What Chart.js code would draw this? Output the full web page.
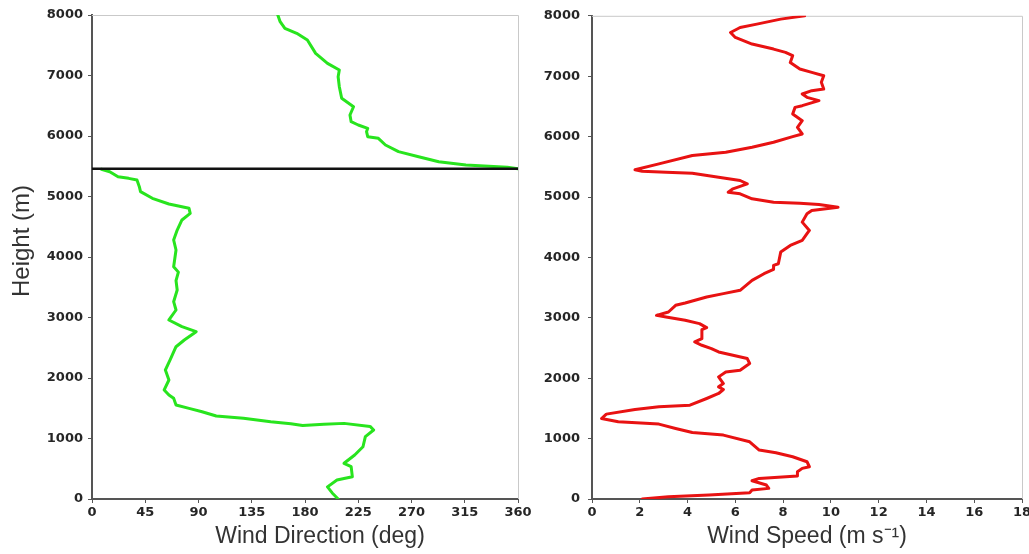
<!DOCTYPE html>
<html>
<head>
<meta charset="utf-8">
<script src="https://cdn.jsdelivr.net/npm/chart.js@4.4.1/dist/chart.umd.min.js"></script>
<style>
html,body{margin:0;padding:0;background:#fff;overflow:hidden;width:1029px;height:554px;}
#wrapL{position:absolute;left:0;top:0;width:540px;height:554px;}
#wrapR{position:absolute;left:500px;top:0;width:540px;height:554px;}
</style>
</head>
<body>
<div id="wrapL"><canvas id="cL" width="540" height="554"></canvas></div>
<div id="wrapR"><canvas id="cR" width="540" height="554"></canvas></div>
<script>
// ---- Data ----
// Wind direction below the 0/360 wrap (height m, direction deg)
const dirHeightsLow = [0,100,200,314,369,534,590,727,864,1030,1140,1200,1250,1235,1215,1245,1278,1333,1372,1443,1498,1554,1664,1719,1802,1967,2132,2298,2517,2628,2766,2848,2959,3124,3261,3455,3610,3750,3840,4116,4281,4446,4612,4722,4805,4876,4970,5080,5162,5273,5300,5327,5410,5450];
const dirValuesLow  = [208,203,199,207,220,219,213,222,229,231,238,235,213,196,178,168,151,128,105,93,82,71,69,65,61,65,62,66,71,78,88,76,65,71,69,72,71,73,69,71,69,72,76,83,82,65,51,41,40,38,31,22,15,8];
// Wind direction above the wrap
const dirHeightsHigh = [5460,5482,5520,5575,5658,5741,5851,5962,5989,6071,6127,6182,6237,6347,6484,6623,6815,6980,7091,7201,7366,7587,7697,7780,7890,8000];
const dirValuesHigh  = [360,351,316,293,276,259,248,242,233,232,233,225,219,218,221,211,209,208,209,199,189,182,173,163,159,157];
// Marked layer height (black line)
const markHeight = 5460;
// Wind speed (height m, speed m/s)
const speedHeights = [0,38,66,105,149,176,231,303,341,380,452,507,534,617,699,766,810,947,1058,1102,1168,1240,1278,1333,1405,1482,1526,1554,1664,1747,1813,1857,1912,2022,2104,2132,2243,2325,2380,2435,2490,2545,2600,2655,2804,2837,2904,2959,3013,3041,3096,3207,3245,3344,3400,3455,3620,3730,3800,3868,3895,4088,4198,4281,4392,4446,4584,4722,4777,4832,4876,4898,4914,4970,5053,5080,5135,5218,5273,5327,5394,5410,5426,5450,5549,5686,5741,5823,5906,6000,6044,6154,6264,6375,6484,6512,6595,6650,6706,6760,6788,6898,7008,7063,7119,7228,7339,7394,7449,7532,7642,7724,7807,7862,7945,8000];
const speedValues  = [2.1,3.2,4.9,6.6,6.7,7.4,7.3,6.7,7.0,8.6,8.6,8.8,9.1,9.0,8.4,7.7,7.0,6.6,5.5,4.2,3.5,2.8,1.1,0.4,0.6,1.8,2.8,4.1,4.8,5.3,5.5,5.3,5.5,5.3,5.6,6.2,6.6,6.5,5.9,5.3,5.0,4.6,4.3,4.6,4.6,4.8,4.5,3.9,3.1,2.7,3.2,3.5,3.9,4.8,5.5,6.2,6.7,7.2,7.6,7.6,7.8,7.9,8.3,8.8,9.0,9.1,8.8,9.0,9.2,10.3,9.5,8.7,7.6,6.7,6.2,5.7,5.9,6.5,6.2,5.3,4.2,3.1,2.1,1.8,2.8,4.2,5.6,6.7,7.6,8.4,8.8,8.6,8.8,8.4,8.5,8.8,9.5,9.0,8.8,9.2,9.7,9.6,9.7,9.2,8.7,8.3,8.4,8.1,7.6,6.7,6.0,5.8,6.2,6.9,7.9,8.9];
// Axis ticks
const dirMin = 0, dirMax = 360, dirStep = 45;
const speedMin = 0, speedMax = 18, speedStep = 2;
const heightMin = 0, heightMax = 8000, heightStep = 1000;
const xTitleDir = 'Wind Direction (deg)';
const xTitleSpeed = 'Wind Speed (m s\u207B\u00B9)';
const yTitle = 'Height (m)';

const pts = (hs, vs) => hs.map((h, i) => ({x: vs[i], y: h}));

const tickFont = {family: 'DejaVu Sans', size: 13, weight: 'bold'};
const tickColor = '#262626';
const axisColor = '#555';
const plain = v => String(v);

const deco = {
  id: 'deco',
  beforeDatasetsDraw(chart) {
    const a = chart.chartArea, ctx = chart.ctx;
    ctx.save();
    ctx.strokeStyle = '#c9c9c9';
    ctx.lineWidth = 1;
    ctx.beginPath();
    ctx.moveTo(a.left, a.top + 0.5);
    ctx.lineTo(a.right + 0.5, a.top + 0.5);
    ctx.lineTo(a.right + 0.5, a.bottom);
    ctx.stroke();
    ctx.restore();
  },
  afterDraw(chart, args, opts) {
    const a = chart.chartArea, ctx = chart.ctx;
    ctx.save();
    ctx.fillStyle = '#333';
    ctx.textAlign = 'center';
    ctx.textBaseline = 'middle';
    ctx.font = '23px "Liberation Sans", Arial, sans-serif';
    ctx.fillText(opts.xTitle, (a.left + a.right) / 2 + (opts.xShift || 0), a.bottom + 38);
    if (opts.yTitle) {
      ctx.translate(22, (a.top + a.bottom) / 2 - 16);
      ctx.rotate(-Math.PI / 2);
      ctx.font = '24px "Liberation Sans", Arial, sans-serif';
      ctx.fillText(opts.yTitle, 0, 0);
    }
    ctx.restore();
  }
};

function makeScales(xmin, xmax, xstep, ypad) {
  return {
    x: {
      type: 'linear', min: xmin, max: xmax,
      afterFit: s => { s.height = 55; },
      ticks: {stepSize: xstep, font: tickFont, color: tickColor, padding: 2, maxRotation: 0, autoSkip: false, callback: plain},
      grid: {drawOnChartArea: false, drawTicks: true, tickLength: 4, color: axisColor},
      border: {display: true, color: axisColor, width: 2}
    },
    y: {
      type: 'linear', min: heightMin, max: heightMax,
      afterFit: s => { s.width = 92; },
      ticks: {stepSize: heightStep, font: tickFont, color: tickColor, padding: ypad, autoSkip: false, callback: plain},
      grid: {drawOnChartArea: false, drawTicks: true, tickLength: 4, color: axisColor},
      border: {display: true, color: axisColor, width: 2}
    }
  };
}

const common = {
  responsive: false,
  animation: false,
  devicePixelRatio: 1,
  plugins: {legend: {display: false}, tooltip: {enabled: false}},
  elements: {point: {radius: 0}, line: {tension: 0, borderJoinStyle: 'round', borderCapStyle: 'round'}}
};

new Chart(document.getElementById('cL'), {
  type: 'scatter',
  data: {
    datasets: [
      {data: [{x: dirMin, y: markHeight}, {x: dirMax, y: markHeight}], showLine: true, borderColor: '#111', borderWidth: 2.5, borderCapStyle: 'butt', pointRadius: 0},
      {data: pts(dirHeightsLow, dirValuesLow), showLine: true, borderColor: 'rgb(40,228,30)', borderWidth: 3, pointRadius: 0},
      {data: pts(dirHeightsHigh, dirValuesHigh), showLine: true, borderColor: 'rgb(40,228,30)', borderWidth: 3, pointRadius: 0}
    ]
  },
  options: Object.assign({}, common, {
    layout: {padding: {top: 15, right: 22, bottom: 0, left: 0}},
    scales: makeScales(dirMin, dirMax, dirStep, 5),
    plugins: Object.assign({}, common.plugins, {deco: {xTitle: xTitleDir, xShift: 15, yTitle: yTitle}})
  }),
  plugins: [deco]
});

new Chart(document.getElementById('cR'), {
  type: 'scatter',
  data: {
    datasets: [
      {data: pts(speedHeights, speedValues), showLine: true, borderColor: 'rgb(232,18,18)', borderWidth: 3, pointRadius: 0}
    ]
  },
  options: Object.assign({}, common, {
    layout: {padding: {top: 15, right: 18, bottom: 0, left: 0}},
    scales: makeScales(speedMin, speedMax, speedStep, 8),
    plugins: Object.assign({}, common.plugins, {deco: {xTitle: xTitleSpeed, xShift: 0}})
  }),
  plugins: [deco]
});
</script>
</body>
</html>
